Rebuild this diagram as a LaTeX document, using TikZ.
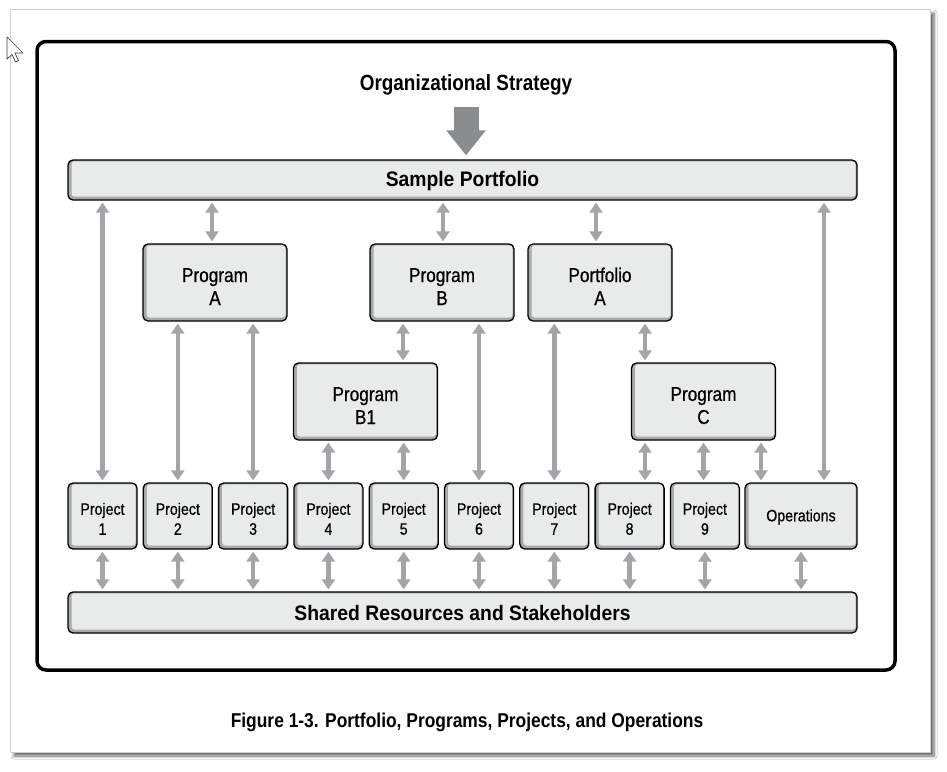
\documentclass[tikz,border=0pt]{standalone}
\usepackage{fontspec}
\setmainfont{Liberation Sans}[FakeStretch=0.86]
\newfontfamily\capfont{Liberation Sans}[FakeStretch=0.87]
\newfontfamily\barfont{Liberation Sans}[FakeStretch=0.92]
\newfontfamily\boxfont{Liberation Sans}[FakeStretch=0.86, FakeBold=0.6]
\newcommand\updn[1]{\rule{0pt}{#1}}
\usetikzlibrary{arrows.meta,shadows.blur}
\definecolor{boxfill}{HTML}{E9EAEA}
\definecolor{bevel}{HTML}{A7A9AC}
\definecolor{arrowgray}{HTML}{A3A5A8}
\definecolor{biggray}{HTML}{8A8C8E}
\definecolor{pageline}{HTML}{CFCFCF}
\tikzset{
  box/.style={draw=black, line width=1.3pt, rounded corners=5pt, fill=bevel,
    align=center, inner sep=0pt,
    path picture={\fill[boxfill, rounded corners=3pt]
      ([xshift=3.5pt,yshift=3.5pt]path picture bounding box.south west) rectangle
      ([xshift=-1.3pt,yshift=-1.3pt]path picture bounding box.north east);}},
  progbox/.style={box, minimum width=144pt, minimum height=77pt,
    font=\fontsize{20}{23}\boxfont},
  projbox/.style={box, minimum width=69pt, minimum height=66pt,
    font=\fontsize{16.5}{20}\boxfont},
  barbox/.style={box, minimum width=789pt, minimum height=40pt,
    font=\fontsize{21}{24}\barfont\bfseries},
  dbl/.style={draw=arrowgray, line width=4.6pt,
    {Triangle[width=13pt,length=10pt]}-{Triangle[width=13pt,length=10pt]},
    shorten >=2pt, shorten <=2pt},
  bigarrow/.style={draw=biggray, line width=25pt,
    -{Triangle[width=38pt,length=25pt]}},
}
\begin{document}
\begin{tikzpicture}[x=1pt,y=-1pt]
\useasboundingbox (0,0) rectangle (947,771);
% page
\fill[white] (0,0) rectangle (947,771);
\path[draw=pageline, line width=0.8pt, fill=white,
  blur shadow={shadow xshift=4pt, shadow yshift=-4pt, shadow blur steps=6, shadow blur radius=3pt, shadow opacity=60}]
  (10,9) rectangle (930,752);
% cursor
\draw[fill=white, draw=black!75, line width=0.7pt, line join=round]
  (7,37) -- (7,59) -- (12,54.5) -- (15.5,62) -- (18.5,60.5) -- (15,53) -- (23,53) -- cycle;
% outer frame
\draw[line width=3.5pt, rounded corners=9pt] (37,41.5) rectangle (895,670);

% title and top bar
\node[font=\fontsize{22}{26}\selectfont\bfseries] (T) at (466,85) {Organizational Strategy};
\node[barbox] (SP) at (462.5,180) {\updn{18pt}Sample Portfolio};
\node[barbox, minimum height=41pt] (SR) at (462.5,612.5) {Shared Resources and Stakeholders};

% programs
\node[progbox] (PA) at (215,282.5) {\updn{22pt}Program\\A};
\node[progbox] (PB) at (442,282.5) {\updn{22pt}Program\\B};
\node[progbox] (PFA) at (600,282.5) {\updn{22pt}Portfolio\\A};
\node[progbox] (PB1) at (365.5,401.5) {\updn{22pt}Program\\B1};
\node[progbox] (PC) at (703.5,401.5) {\updn{22pt}Program\\C};

% projects
\foreach \i in {1,...,9}{
  \node[projbox] (P\i) at ({68+75.3*(\i-1)+34.5},516) {\updn{17.5pt}Project\\\i};
}
\node[projbox, minimum width=112pt] (OP) at (801,516) {\updn{14pt}Operations};

% caption
\node[font=\fontsize{20}{24}\capfont\bfseries] (CAP) at (467,722) {Figure 1-3. Portfolio, Programs, Projects, and Operations};

% big arrow
\draw[bigarrow] ([yshift=-8pt]T.south) -- ([yshift=4pt]T.south |- SP.north);

% arrows from Sample Portfolio
\draw[dbl] (P1.north) -- (P1.north |- SP.south);
\draw[dbl] ([xshift=-3pt]PA.north) -- ([xshift=-3pt]PA.north |- SP.south);
\draw[dbl] ([xshift=1pt]PB.north) -- ([xshift=1pt]PB.north |- SP.south);
\draw[dbl] ([xshift=-4pt]PFA.north) -- ([xshift=-4pt]PFA.north |- SP.south);
\draw[dbl] ([xshift=23pt]OP.north) -- ([xshift=23pt]OP.north |- SP.south);

% program A
\draw[dbl] (P2.north) -- (P2.north |- PA.south);
\draw[dbl] (P3.north) -- (P3.north |- PA.south);
% program B
\draw[dbl] ([xshift=-39pt]PB.south) -- ([xshift=-39pt]PB.south |- PB1.north);
\draw[dbl] (P6.north) -- (P6.north |- PB.south);
% program B1
\draw[dbl] (P4.north) -- (P4.north |- PB1.south);
\draw[dbl] (P5.north) -- (P5.north |- PB1.south);
% portfolio A
\draw[dbl] (P7.north) -- (P7.north |- PFA.south);
\draw[dbl] ([xshift=-58.5pt]PC.north) -- ([xshift=-58.5pt]PC.north |- PFA.south);
% program C
\draw[dbl] ([xshift=-58.5pt]PC.south) -- ([xshift=-58.5pt]PC.south |- P8.north);
\draw[dbl] (PC.south) -- (PC.south |- P9.north);
\draw[dbl] ([xshift=57.5pt]PC.south) -- ([xshift=57.5pt]PC.south |- OP.north);

% to shared resources
\foreach \n in {P1,P2,P3,P4,P5,P6,P7,P8,P9,OP}{
  \draw[dbl] (\n.south) -- (\n.south |- SR.north);
}
\end{tikzpicture}
\end{document}
